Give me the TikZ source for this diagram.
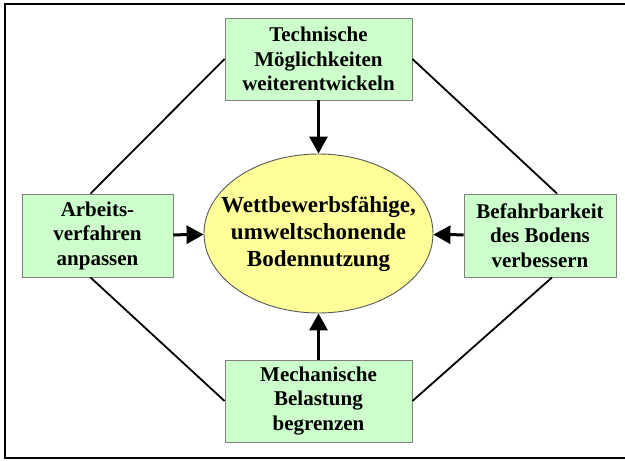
\documentclass[tikz,border=0pt]{standalone}
\usepackage{fontspec}
\setmainfont{Liberation Serif}
\usetikzlibrary{arrows.meta}
\definecolor{boxgreen}{HTML}{CCFFCC}
\definecolor{goalyellow}{HTML}{FFFF99}
\tikzset{
  massnahme/.style={draw=gray, fill=boxgreen, line width=0.9pt, inner sep=0pt,
    minimum width=187pt, minimum height=82pt, align=center,
    font=\fontsize{21}{24.5}\selectfont\bfseries},
  ziel/.style={ellipse, draw=black!65, fill=goalyellow, line width=0.9pt,
    inner xsep=-17pt, inner ysep=0pt,
    minimum width=229pt, minimum height=159pt, align=center,
    font=\fontsize{23}{27}\selectfont\bfseries},
  wirkung/.style={line width=3pt, -{Triangle[length=17pt,width=18pt]}},
  bezug/.style={line width=1.8pt}
}
\usetikzlibrary{shapes.geometric}
\begin{document}
\begin{tikzpicture}[x=1pt,y=-1pt]
\useasboundingbox (0,0) rectangle (625,461);
\draw[line width=2pt] (625,4) -| (5,458) -- (625,458);

\node[ziel] (ziel) at (318.5,233.5) {Wettbewerbsfähige,\\umweltschonende\\Bodennutzung};

\node[massnahme] (technik) at (318.5,59) {Technische\\Möglichkeiten\\weiterentwickeln};
\node[massnahme, minimum width=151pt, minimum height=83pt] (verfahren) at (97.5,235.5) {Arbeits-\\verfahren\\anpassen};
\node[massnahme, minimum width=152pt, minimum height=83pt] (befahr) at (540,235.5) {Befahrbarkeit\\des Bodens\\verbessern};
\node[massnahme] (belastung) at (318.5,401) {Mechanische\\Belastung\\begrenzen};

\draw[wirkung] (technik) -- (ziel);
\draw[wirkung] (verfahren) -- (ziel);
\draw[wirkung] (befahr) -- (ziel);
\draw[wirkung] (belastung) -- (ziel);

\draw[bezug] (technik.west) -- ([xshift=-7pt]verfahren.north)
  (technik.east) -- ([xshift=17pt]befahr.north);
\draw[bezug] ([xshift=-7pt]verfahren.south) -- (belastung.west)
  ([xshift=12pt]befahr.south) -- (belastung.east);
\end{tikzpicture}
\end{document}
